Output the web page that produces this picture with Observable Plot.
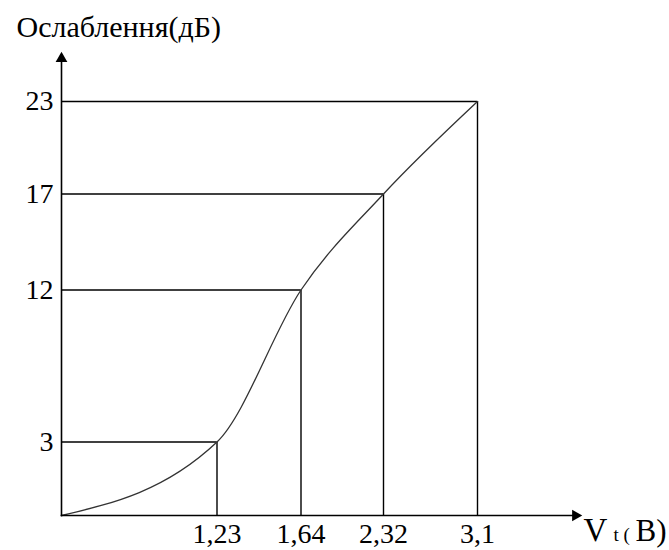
<!DOCTYPE html>
<html>
<head>
<meta charset="utf-8">
<script src="https://cdn.jsdelivr.net/npm/d3@7"></script>
<script src="https://cdn.jsdelivr.net/npm/@observablehq/plot@0.6"></script>
<style>
  body { margin: 0; background: #fff; }
</style>
</head>
<body>
<div id="chart"></div>
<script>
// Control voltage Vt (V) and the attenuation it produces (dB)
const voltage = [0, 1.23, 1.64, 2.32, 3.1];
const attenuation = [0, 3, 12, 17, 23];

// Axis tick values
const voltageTicks = [1.23, 1.64, 2.32, 3.1];
const attenuationTicks = [3, 12, 17, 23];

const points = voltage.map((v, i) => ({v, a: attenuation[i]}));
const marked = points.slice(1);

const serif = "Liberation Serif";
const comma = d => String(d).replace(".", ",");

const chart = Plot.plot({
  width: 669,
  height: 550,
  marginLeft: 61,
  marginTop: 58,
  marginRight: 94,
  marginBottom: 35,
  style: {background: "white", color: "black"},
  // schematic, non-uniform axes: a piecewise scale between the marked values
  x: {type: "linear", domain: voltage, range: [61, 216.5, 300.5, 383, 477]},
  y: {type: "linear", domain: attenuation, range: [515, 441.5, 289.5, 193.5, 101]},
  marks: [
    // guide lines from the axes to each marked point
    Plot.ruleY(marked, {y: "a", x1: 0, x2: "v", stroke: "black", strokeWidth: 1.4}),
    Plot.ruleX(marked, {x: "v", y1: 0, y2: "a", stroke: "black", strokeWidth: 1.4}),
    // attenuation curve
    Plot.line(points, {x: "v", y: "a", curve: "monotone-x", stroke: "#333", strokeWidth: 1.3}),
    // axes with arrowheads
    Plot.frame({anchor: "left", stroke: "black", strokeWidth: 1.6}),
    Plot.frame({anchor: "bottom", stroke: "black", strokeWidth: 1.6}),
    Plot.dot([0], {x: null, y: null, frameAnchor: "top-left", symbol: "triangle2", r: 5.6, fill: "black"}),
    Plot.dot([0], {x: null, y: null, frameAnchor: "bottom-right", symbol: "triangle2", r: 5.6, fill: "black", rotate: 90}),
    Plot.axisY({ticks: attenuationTicks, tickSize: 0, tickPadding: 8, fontSize: 28, fontFamily: serif, label: null, tickFormat: comma}),
    Plot.axisX({ticks: voltageTicks, tickSize: 0, tickPadding: 8, fontSize: 28, fontFamily: serif, label: null, tickFormat: comma}),
    // axis titles
    Plot.text(["Ослаблення(дБ)"], {x: null, y: null, text: d => d, frameAnchor: "top-left", textAnchor: "start", lineAnchor: "bottom", dx: -45, dy: -22, fontSize: 30, fontFamily: serif}),
    Plot.text(["V"], {x: null, y: null, text: d => d, frameAnchor: "bottom-right", textAnchor: "start", lineAnchor: "bottom", dx: 8, dy: 25, fontSize: 33, fontFamily: serif}),
    Plot.text(["t ("], {x: null, y: null, text: d => d, frameAnchor: "bottom-right", textAnchor: "start", lineAnchor: "bottom", dx: 38, dy: 25, fontSize: 19, fontFamily: serif}),
    Plot.text(["B)"], {x: null, y: null, text: d => d, frameAnchor: "bottom-right", textAnchor: "start", lineAnchor: "bottom", dx: 60, dy: 25, fontSize: 31, fontFamily: serif})
  ]
});

document.getElementById("chart").appendChild(chart);
</script>
</body>
</html>
